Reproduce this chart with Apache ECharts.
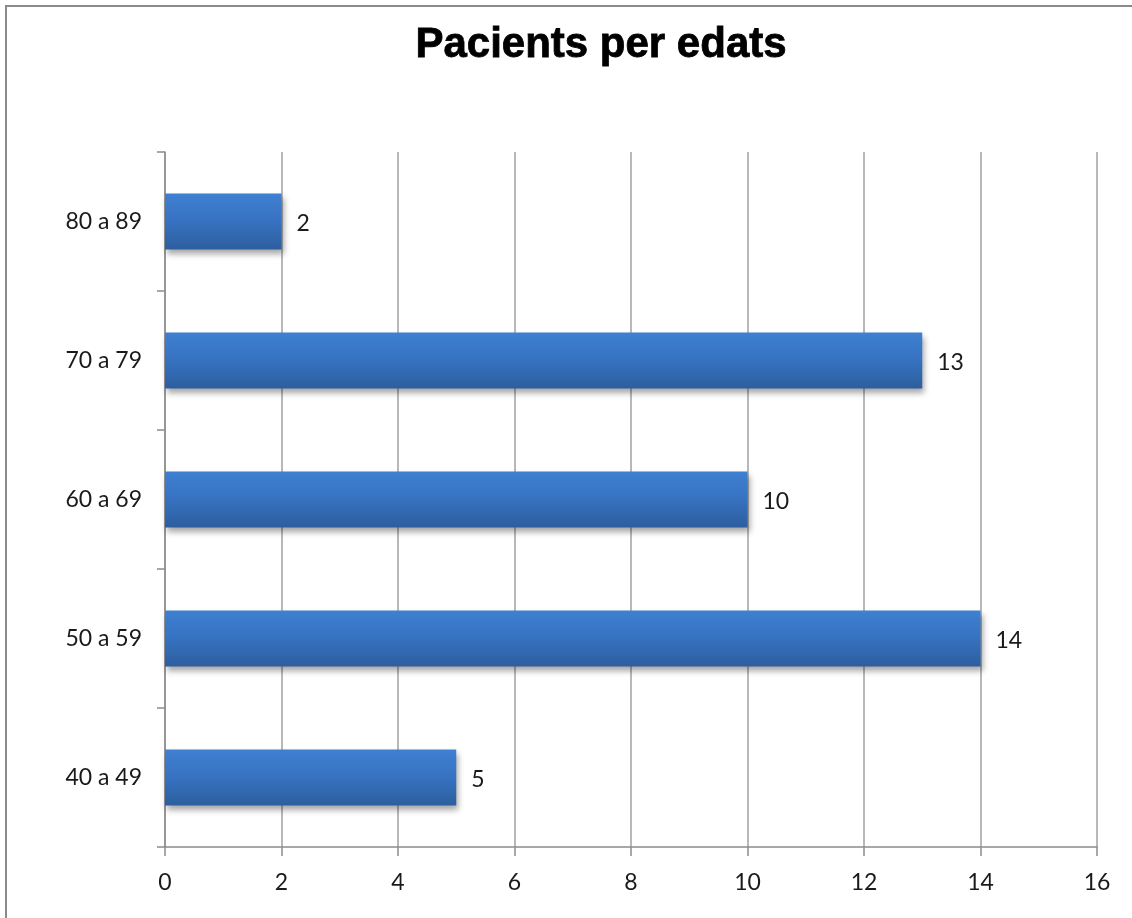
<!DOCTYPE html>
<html>
<head>
<meta charset="utf-8">
<script src="https://cdn.jsdelivr.net/npm/echarts@6/dist/echarts.min.js"></script>
<style>html,body{margin:0;padding:0;background:#fff;}#c{width:1132px;height:918px;}</style>
</head>
<body>
<div id="c"></div>
<script>
const titleText = 'Pacients per edats';
const categories = ['40 a 49', '50 a 59', '60 a 69', '70 a 79', '80 a 89'];
const values = [5, 14, 10, 13, 2];
const xTicks = { min: 0, max: 16, interval: 2 };

const chart = echarts.init(document.getElementById('c'));
chart.setOption({
  backgroundColor: '#ffffff',
  animation: false,
  graphic: [{
    type: 'rect',
    shape: { x: 6, y: 6, width: 1140, height: 930 },
    style: { fill: 'none', stroke: '#8a8a8a', lineWidth: 2 },
    z: -1
  }],
  title: {
    text: titleText,
    left: 596,
    textAlign: 'center',
    top: 19,
    textStyle: { fontFamily: 'Liberation Sans', fontWeight: 900, fontSize: 42, color: '#000',
      textBorderColor: '#000', textBorderWidth: 0.8 }
  },
  grid: { left: 165, right: 35, top: 152, bottom: 71, containLabel: false },
  xAxis: {
    type: 'value',
    min: xTicks.min, max: xTicks.max, interval: xTicks.interval,
    axisLine: { show: true, lineStyle: { color: '#8c8c8c', width: 1.5 } },
    axisTick: { show: true, length: 9, lineStyle: { color: '#8c8c8c', width: 1.5 } },
    splitLine: { show: true, lineStyle: { color: '#a0a0a0', width: 1.5 } },
    axisLabel: { margin: 24, fontFamily: 'Lato', fontSize: 23, color: '#1a1a1a' }
  },
  yAxis: {
    type: 'category',
    data: categories,
    axisLine: { show: true, lineStyle: { color: '#8c8c8c', width: 1.5 } },
    axisTick: { show: true, length: 8, lineStyle: { color: '#8c8c8c', width: 1.5 } },
    axisLabel: { margin: 23, fontFamily: 'Lato', fontSize: 23, color: '#1a1a1a' }
  },
  series: [{
    type: 'bar',
    data: values,
    barWidth: 56,
    itemStyle: {
      color: new echarts.graphic.LinearGradient(0, 0, 0, 1, [
        { offset: 0, color: '#3f80d2' },
        { offset: 0.5, color: '#3672c0' },
        { offset: 1, color: '#2d5e9e' }
      ]),
      shadowColor: 'rgba(0,0,0,0.35)',
      shadowBlur: 6,
      shadowOffsetX: 2,
      shadowOffsetY: 4
    },
    label: {
      show: true,
      position: 'right',
      distance: 15,
      fontFamily: 'Lato',
      fontSize: 23,
      color: '#1a1a1a',
      offset: [0, 2]
    }
  }]
});
</script>
</body>
</html>
